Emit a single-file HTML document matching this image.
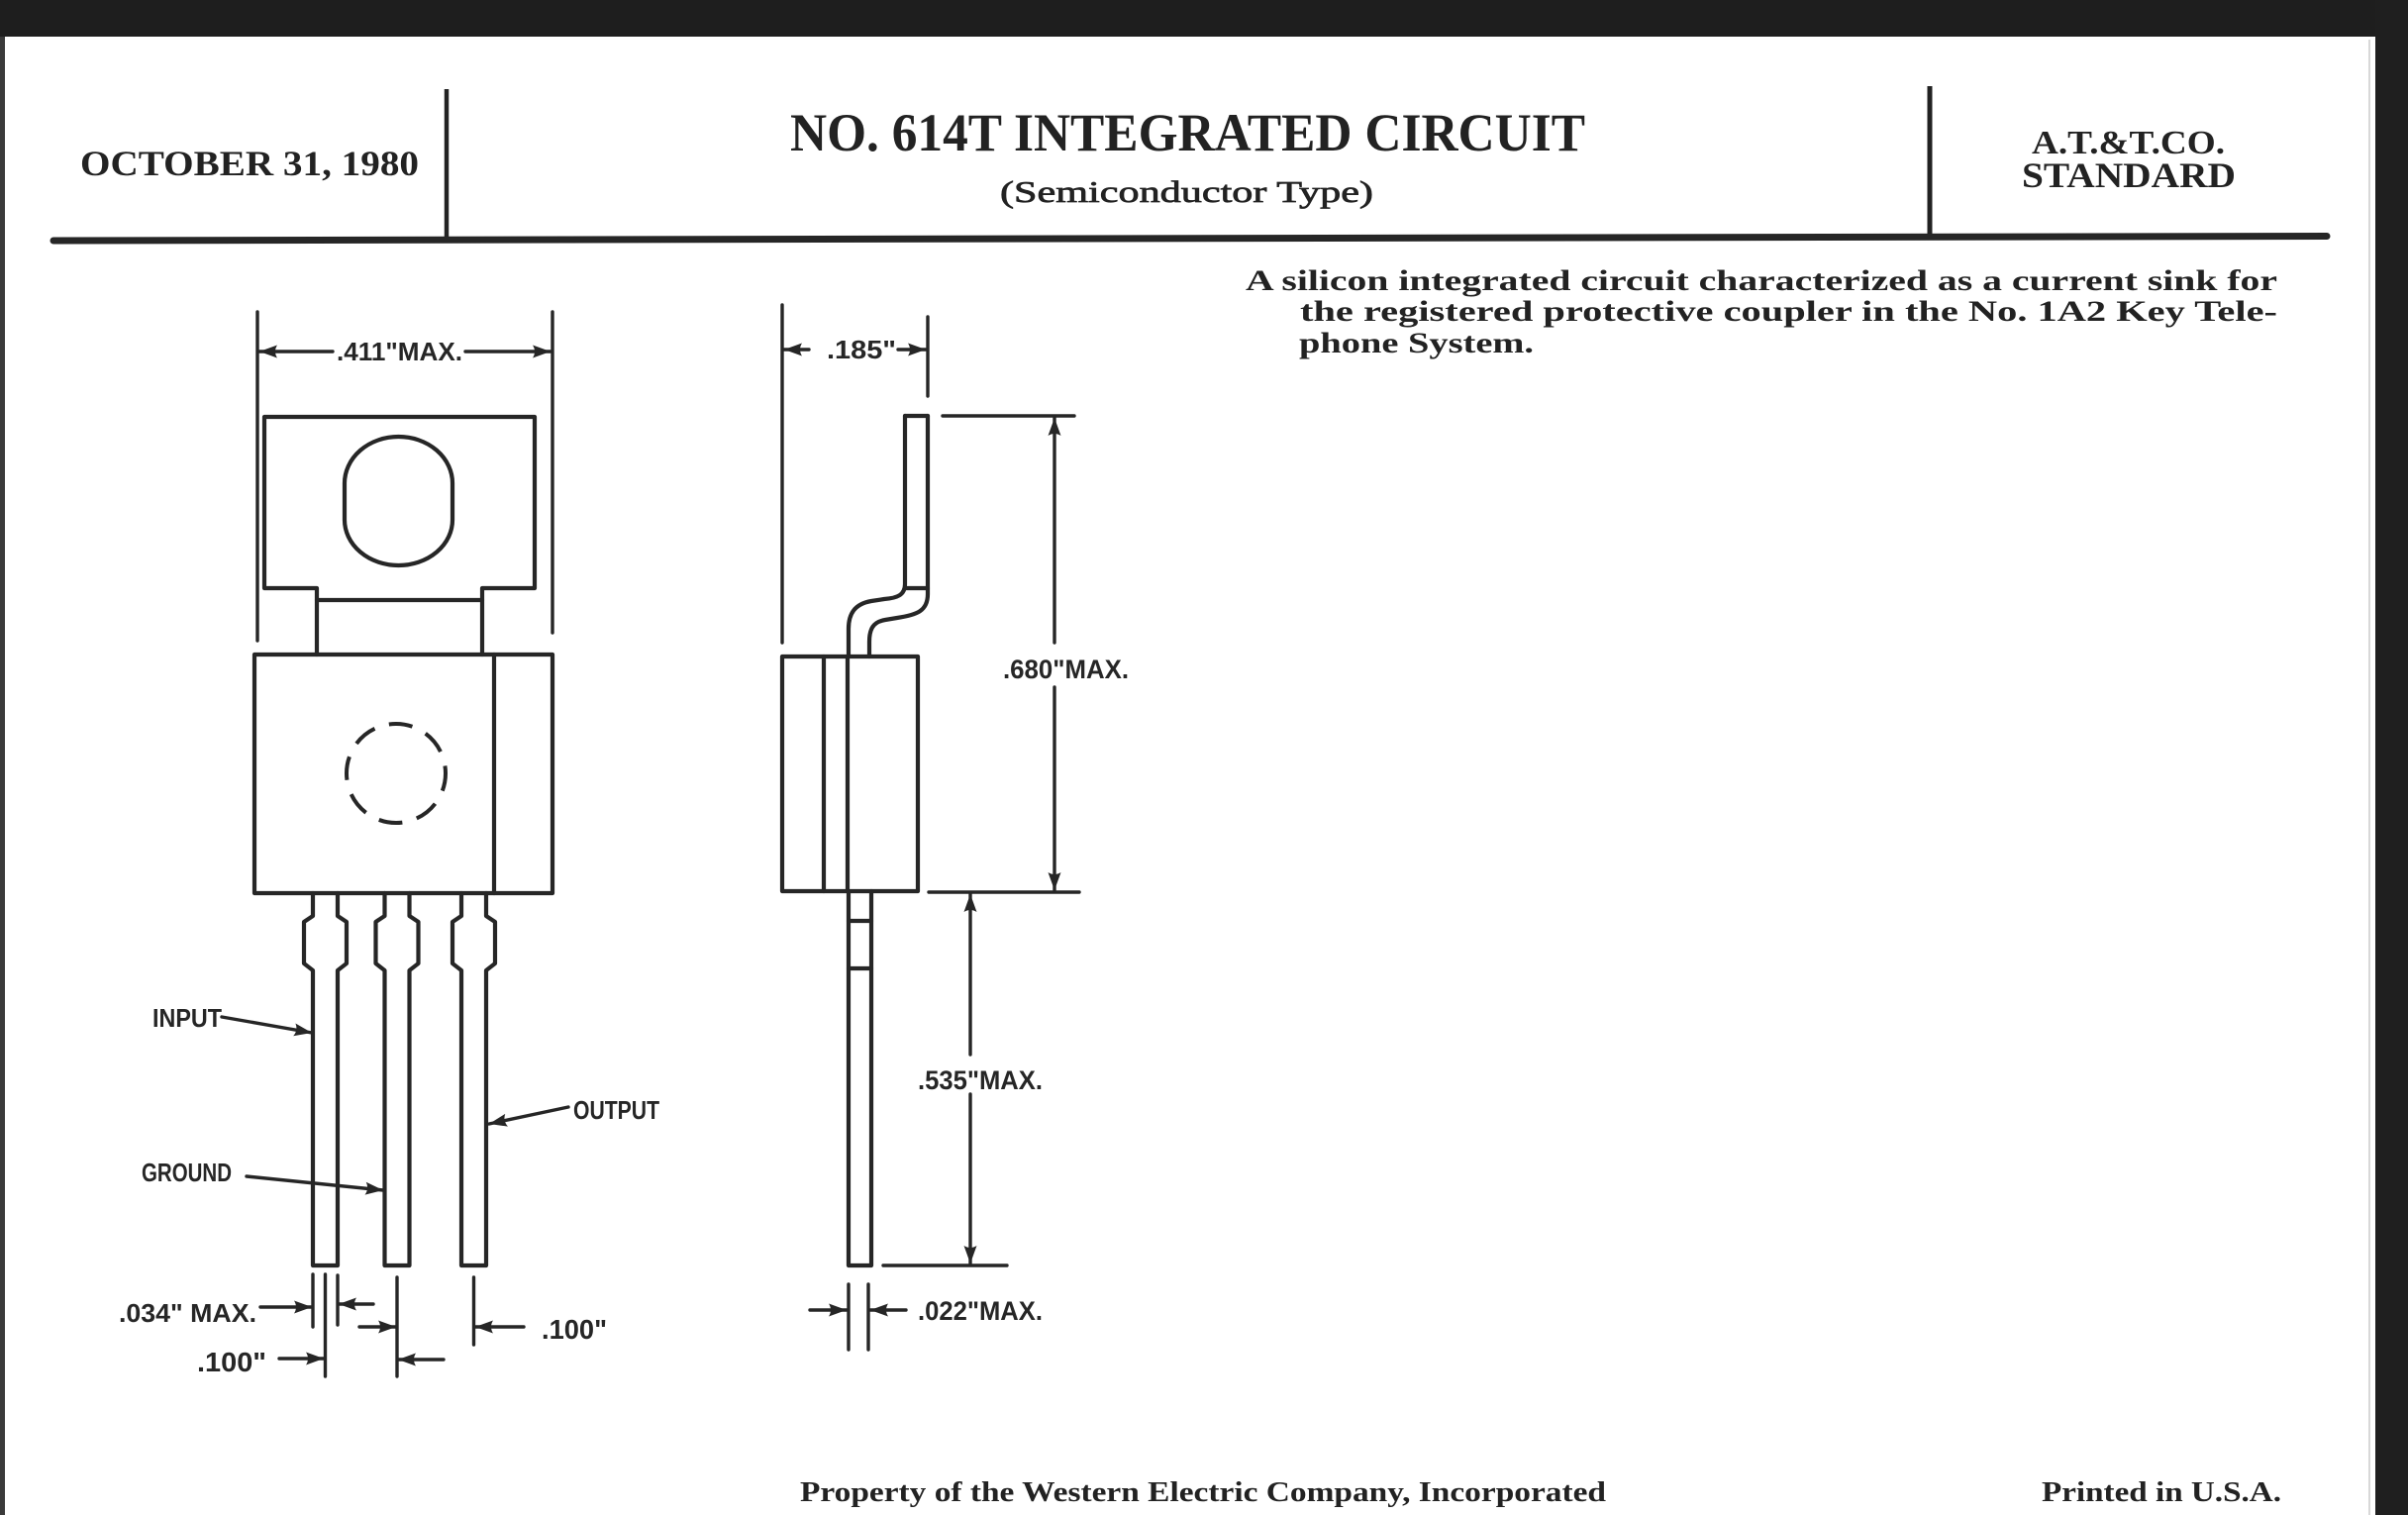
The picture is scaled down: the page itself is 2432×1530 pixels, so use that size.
<!DOCTYPE html>
<html>
<head>
<meta charset="utf-8">
<style>
  html, body { margin: 0; padding: 0; background: #fff; }
  body { width: 2432px; height: 1530px; overflow: hidden; }
  svg { display: block; }
  .serif { font-family: "Liberation Serif", serif; fill: #222; }
  .sans { font-family: "Liberation Sans", sans-serif; font-weight: bold; fill: #262626; }
  .ln { stroke: #262626; stroke-width: 4.2; fill: none; stroke-linecap: round; stroke-linejoin: round; }
  .thin { stroke: #262626; stroke-width: 3.4; fill: none; stroke-linecap: round; }
</style>
</head>
<body>
<svg width="2432" height="1530" viewBox="0 0 2432 1530" xmlns="http://www.w3.org/2000/svg">
  <defs>
    <marker id="ar" markerWidth="20" markerHeight="16" refX="18" refY="8" orient="auto" markerUnits="userSpaceOnUse">
      <path d="M0,1.5 L18,8 L0,14.5 Q4,8 0,1.5 z" fill="#262626"/>
    </marker>
  </defs>

  <!-- paper & scan borders -->
  <rect x="0" y="0" width="2432" height="1530" fill="#ffffff"/>
  <rect x="0" y="0" width="2432" height="37" fill="#1e1e1e"/>
  <rect x="0" y="37" width="5" height="1493" fill="#3a3a3a"/>
  <rect x="2399" y="0" width="33" height="1530" fill="#1f1f1f"/>
  <line x1="2393" y1="40" x2="2393" y2="1530" stroke="#d8d8d8" stroke-width="2"/>

  <!-- header lines -->
  <line x1="451" y1="90" x2="451" y2="240" stroke="#222" stroke-width="4.5"/>
  <line x1="1949" y1="87" x2="1949" y2="236" stroke="#222" stroke-width="5"/>
  <line x1="54" y1="243" x2="2350" y2="238.5" stroke="#262626" stroke-width="7" stroke-linecap="round"/>

  <!-- header text -->
  <text class="serif" x="81" y="177" font-size="36" font-weight="bold" textLength="342" lengthAdjust="spacingAndGlyphs">OCTOBER 31, 1980</text>
  <text class="serif" x="798" y="152" font-size="54" font-weight="bold" textLength="803" lengthAdjust="spacingAndGlyphs">NO. 614T INTEGRATED CIRCUIT</text>
  <text class="serif" x="1010" y="204" font-size="31" stroke="#222" stroke-width="0.7" textLength="377" lengthAdjust="spacingAndGlyphs">(Semiconductor Type)</text>
  <text class="serif" x="2052" y="155" font-size="34" font-weight="bold" textLength="195" lengthAdjust="spacingAndGlyphs">A.T.&amp;T.CO.</text>
  <text class="serif" x="2042" y="189" font-size="36" font-weight="bold" textLength="216" lengthAdjust="spacingAndGlyphs">STANDARD</text>

  <!-- description -->
  <text class="serif" x="1258" y="293" font-size="30" font-weight="bold" textLength="1042" lengthAdjust="spacingAndGlyphs">A silicon integrated circuit characterized as a current sink for</text>
  <text class="serif" x="1313" y="324" font-size="30" font-weight="bold" textLength="987" lengthAdjust="spacingAndGlyphs">the registered protective coupler in the No. 1A2 Key Tele-</text>
  <text class="serif" x="1312" y="356" font-size="30" font-weight="bold" textLength="237" lengthAdjust="spacingAndGlyphs">phone System.</text>

  <!-- footer -->
  <text class="serif" x="808" y="1516" font-size="28" font-weight="bold" textLength="814" lengthAdjust="spacingAndGlyphs">Property of the Western Electric Company, Incorporated</text>
  <text class="serif" x="2062" y="1516" font-size="28" font-weight="bold" textLength="242" lengthAdjust="spacingAndGlyphs">Printed in U.S.A.</text>

  <!-- ================= FRONT VIEW ================= -->
  <!-- .411 dimension -->
  <line class="thin" x1="260" y1="315" x2="260" y2="647"/>
  <line class="thin" x1="558" y1="315" x2="558" y2="639"/>
  <line class="thin" x1="336" y1="355" x2="262" y2="355" marker-end="url(#ar)"/>
  <line class="thin" x1="470" y1="355" x2="556" y2="355" marker-end="url(#ar)"/>
  <text class="sans" x="340" y="364" font-size="26" textLength="127" lengthAdjust="spacingAndGlyphs">.411"MAX.</text>

  <!-- tab -->
  <path class="ln" d="M320 661 V594 H267 V421 H540 V594 H487 V661"/>
  <line class="ln" x1="320" y1="606" x2="487" y2="606"/>
  <path class="ln" d="M348 488 A54.5 47 0 0 1 457 488 L457 525 A54.5 46 0 0 1 348 525 Z"/>

  <!-- body -->
  <rect class="ln" x="257" y="661" width="301" height="241"/>
  <line class="ln" x1="499" y1="661" x2="499" y2="902"/>
  <circle cx="400" cy="781" r="50" fill="none" stroke="#262626" stroke-width="4" stroke-dasharray="24 15" stroke-dashoffset="6"/>

  <!-- leads -->
  <path class="ln" d="M316 902 V925 L307 931 V973 L316 980 V1278 H341 V980 L350 973 V931 L341 925 V902"/>
  <path class="ln" d="M388.5 902 V925 L379.5 931 V973 L388.5 980 V1278 H413.5 V980 L422.5 973 V931 L413.5 925 V902"/>
  <path class="ln" d="M466 902 V925 L457 931 V973 L466 980 V1278 H491 V980 L500 973 V931 L491 925 V902"/>

  <!-- lead labels -->
  <text class="sans" x="154" y="1037" font-size="26" textLength="70" lengthAdjust="spacingAndGlyphs">INPUT</text>
  <line class="thin" x1="224" y1="1027" x2="315" y2="1043" marker-end="url(#ar)"/>
  <text class="sans" x="143" y="1193" font-size="26" textLength="91" lengthAdjust="spacingAndGlyphs">GROUND</text>
  <line class="thin" x1="249" y1="1188" x2="387" y2="1202" marker-end="url(#ar)"/>
  <text class="sans" x="579" y="1130" font-size="26" textLength="87" lengthAdjust="spacingAndGlyphs">OUTPUT</text>
  <line class="thin" x1="574" y1="1118" x2="494" y2="1135" marker-end="url(#ar)"/>

  <!-- bottom dimensions front -->
  <line class="thin" x1="316" y1="1287" x2="316" y2="1340"/>
  <line class="thin" x1="328.5" y1="1287" x2="328.5" y2="1390"/>
  <line class="thin" x1="341" y1="1288" x2="341" y2="1338"/>
  <line class="thin" x1="401" y1="1290" x2="401" y2="1390"/>
  <line class="thin" x1="478.5" y1="1290" x2="478.5" y2="1358"/>
  <line class="thin" x1="263" y1="1320" x2="315" y2="1320" marker-end="url(#ar)"/>
  <line class="thin" x1="377" y1="1317" x2="342" y2="1317" marker-end="url(#ar)"/>
  <line class="thin" x1="363" y1="1340" x2="400" y2="1340" marker-end="url(#ar)"/>
  <line class="thin" x1="529" y1="1340" x2="480" y2="1340" marker-end="url(#ar)"/>
  <line class="thin" x1="282" y1="1372" x2="327" y2="1372" marker-end="url(#ar)"/>
  <line class="thin" x1="448" y1="1373" x2="402" y2="1373" marker-end="url(#ar)"/>
  <text class="sans" x="120" y="1335" font-size="26" textLength="139" lengthAdjust="spacingAndGlyphs">.034" MAX.</text>
  <text class="sans" x="199" y="1385" font-size="28" textLength="70" lengthAdjust="spacingAndGlyphs">.100"</text>
  <text class="sans" x="547" y="1352" font-size="28" textLength="66" lengthAdjust="spacingAndGlyphs">.100"</text>

  <!-- ================= SIDE VIEW ================= -->
  <!-- .185 dimension -->
  <line class="thin" x1="790" y1="308" x2="790" y2="649"/>
  <line class="thin" x1="937" y1="320" x2="937" y2="400"/>
  <line class="thin" x1="817" y1="353" x2="792" y2="353" marker-end="url(#ar)"/>
  <line class="thin" x1="907" y1="353" x2="935" y2="353" marker-end="url(#ar)"/>
  <text class="sans" x="835" y="362" font-size="26" textLength="70" lengthAdjust="spacingAndGlyphs">.185"</text>

  <!-- tab strip with bend -->
  <path class="ln" d="M914 420 H937"/>
  <path class="ln" d="M937 420 V600 C937 617 926 621 906 624 L894 626 C882 628 878 635 878 648 V663"/>
  <path class="ln" d="M914 420 V590 C914 601 906 604 893 605 L880 607 C863 610 857 620 857 635 V663"/>
  <line class="ln" x1="914" y1="594" x2="937" y2="594"/>

  <!-- side body -->
  <rect class="ln" x="790" y="663" width="137" height="237"/>
  <line class="ln" x1="832" y1="663" x2="832" y2="900"/>
  <line class="ln" x1="856" y1="663" x2="856" y2="900"/>

  <!-- side lead -->
  <path class="ln" d="M857 900 V1278 H880 V900"/>
  <line class="ln" x1="857" y1="930" x2="880" y2="930"/>
  <line class="ln" x1="857" y1="978" x2="880" y2="978"/>

  <!-- .680 dimension -->
  <line class="thin" x1="952" y1="420" x2="1085" y2="420"/>
  <line class="thin" x1="1065" y1="649" x2="1065" y2="422" marker-end="url(#ar)"/>
  <line class="thin" x1="1065" y1="694" x2="1065" y2="899" marker-end="url(#ar)"/>
  <line class="thin" x1="938" y1="901" x2="1090" y2="901"/>
  <text class="sans" x="1013" y="685" font-size="27" textLength="127" lengthAdjust="spacingAndGlyphs">.680"MAX.</text>

  <!-- .535 dimension -->
  <line class="thin" x1="980" y1="1065" x2="980" y2="903" marker-end="url(#ar)"/>
  <line class="thin" x1="980" y1="1105" x2="980" y2="1276" marker-end="url(#ar)"/>
  <line class="thin" x1="892" y1="1278" x2="1017" y2="1278"/>
  <text class="sans" x="927" y="1100" font-size="27" textLength="126" lengthAdjust="spacingAndGlyphs">.535"MAX.</text>

  <!-- .022 dimension -->
  <line class="thin" x1="857" y1="1297" x2="857" y2="1363"/>
  <line class="thin" x1="877" y1="1297" x2="877" y2="1363"/>
  <line class="thin" x1="818" y1="1323" x2="855" y2="1323" marker-end="url(#ar)"/>
  <line class="thin" x1="915" y1="1323" x2="879" y2="1323" marker-end="url(#ar)"/>
  <text class="sans" x="927" y="1333" font-size="27" textLength="126" lengthAdjust="spacingAndGlyphs">.022"MAX.</text>
</svg>
</body>
</html>
